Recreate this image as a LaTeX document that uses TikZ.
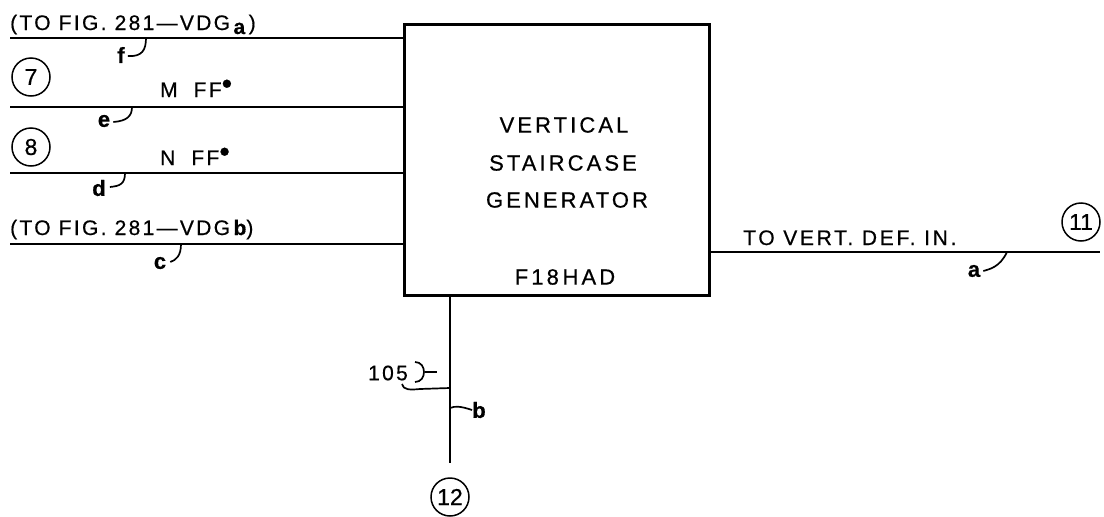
\documentclass[tikz,border=0pt]{standalone}
\usepackage{fontspec}
\setmainfont{Liberation Sans}[FakeBold=0.6]
\begin{document}
\begin{tikzpicture}[x=1pt,y=-1pt,
  wire/.style={line width=1.3pt},
  boxline/.style={line width=2.6pt},
  lbl/.style={inner sep=0pt, font=\fontsize{21}{24}\selectfont\addfontfeatures{LetterSpace=11}},
  rlbl/.style={inner sep=0pt, font=\fontsize{21}{24}\selectfont\addfontfeatures{LetterSpace=13}},
  boxtxt/.style={inner sep=0pt, font=\fontsize{22}{24}\selectfont\addfontfeatures{LetterSpace=14}},
  tag/.style={inner sep=0pt, font=\fontsize{22}{22}\selectfont\bfseries},
  hookline/.style={line width=1.7pt},
  refc/.style={circle, draw, line width=1.5pt, minimum size=38pt, inner sep=0pt, font=\fontsize{23}{24}\selectfont}]
\useasboundingbox (0,0) rectangle (1104,517);
% main block
\node[draw, boxline, minimum width=305pt, minimum height=271pt, anchor=north west, inner sep=0pt] (gen) at (403,23) {};
\node[boxtxt] (t1) at (564,125) {VERTICAL};
\node[boxtxt] (t2) at (563,163) {STAIRCASE};
\node[boxtxt] (t3) at (567,200) {GENERATOR};
\node[boxtxt] (t4) at (565,277) {F18\,HAD};
% left input wires
\coordinate (wf) at (10,38);
\coordinate (we) at (10,107);
\coordinate (wd) at (10,173);
\coordinate (wc) at (10,244);
\draw[wire] (wf) -- (gen.west |- wf);
\draw[wire] (we) -- (gen.west |- we);
\draw[wire] (wd) -- (gen.west |- wd);
\draw[wire] (wc) -- (gen.west |- wc);
% labels on left wires
\node[lbl, anchor=base west] (tofiga) at (10,30) {(TO FIG. 281—VDG\,\raisebox{-4pt}{\bfseries a}\,)};
\node[lbl, anchor=base west] (tofigb) at (10,235) {(TO FIG. 281—VDG\,{\bfseries b})};
\node[lbl, anchor=base west] (mff) at (160,97) {M\hspace{16pt}FF\raisebox{0.3ex}{\fontsize{30}{30}\selectfont •}};
\node[lbl, anchor=base west] (nff) at (160,165) {N\hspace{16pt}FF\raisebox{0.3ex}{\fontsize{30}{30}\selectfont •}};
\node[refc] (c7) at (31,77) {7};
\node[refc] (c8) at (31,147) {8};
% wire letters with hooks
\node[tag] (lf) at (121,55) {f};
\coordinate (hf) at (146,38);
\draw[hookline] (lf.east) ++(3,1) .. controls (142,57) and (146,50) .. (hf);
\node[tag] (le) at (104,121) {e};
\coordinate (he) at (132,107);
\draw[hookline] (le.east) ++(3,1) .. controls (127,121) and (132,116) .. (he);
\node[tag] (ld) at (99,188) {d};
\coordinate (hd) at (125,173);
\draw[hookline] (ld.east) ++(4,-1) .. controls (120,186) and (125,184) .. (hd);
\node[tag] (lc) at (160,263) {c};
\coordinate (hc) at (181,244);
\draw[hookline] (lc.east) ++(4,-1) .. controls (176,260) and (181,256) .. (hc);
% output wire
\coordinate (wa) at (1100,252);
\draw[wire] (gen.east |- wa) -- (wa);
\node[rlbl, anchor=base west] (tovert) at (743,245) {TO VERT. DEF. IN.};
\node[refc] (c11) at (1081,222) {11};
\node[tag] (la) at (974,271) {a};
\coordinate (ha) at (1007,252);
\draw[hookline] (la.east) ++(3,0) .. controls (990,269) and (1000,267) .. (ha);
% bottom wire
\coordinate (gb) at (450,294);
\node[refc] (c12) at (450,497) {12};
\draw[wire] (gb) -- (450,463);
\node[lbl] (n105) at (388,373) {105};
\draw[hookline] (415,362) .. controls (427,362) and (427,382) .. (415,382);
\draw[hookline] (425,372) -- (437,372);
\coordinate (j105) at (450,388);
\draw[hookline] (402,384) .. controls (403,390) and (410,390) .. (420,389) -- (j105);
\node[tag] (lb) at (479,410) {b};
\coordinate (jb) at (450,408);
\draw[hookline] (jb) .. controls (455,406) and (460,406) .. (lb.west);
\end{tikzpicture}
\end{document}
